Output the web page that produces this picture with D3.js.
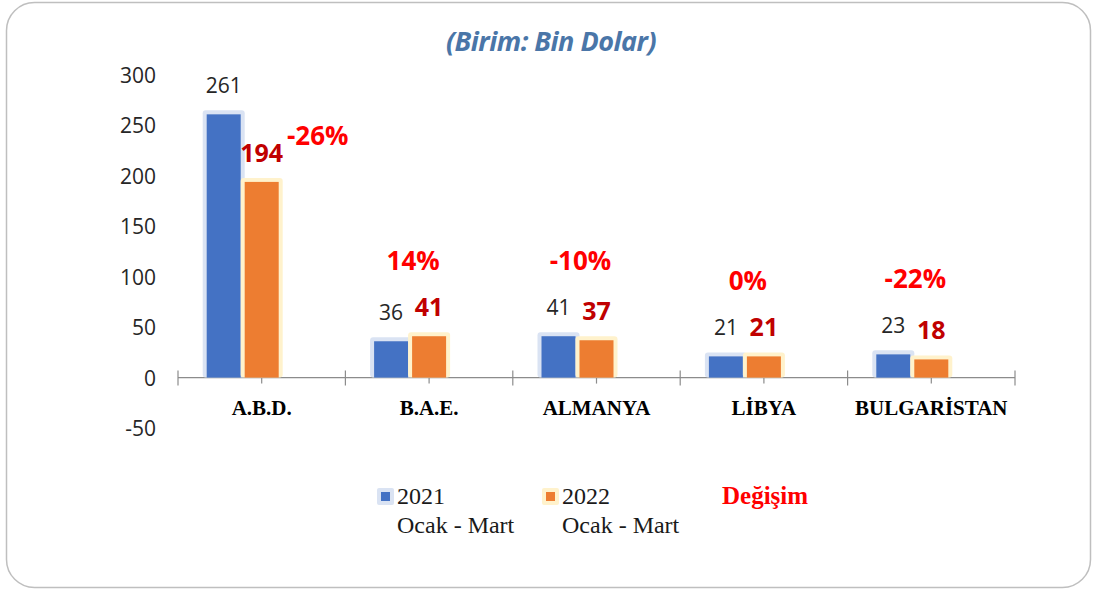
<!DOCTYPE html>
<html>
<head>
<meta charset="utf-8">
<script src="https://cdn.jsdelivr.net/npm/d3@7"></script>
<style>
  body { margin: 0; background: #fff; }
</style>
</head>
<body>
<script>
// chart values
var countries = ["A.B.D.", "B.A.E.", "ALMANYA", "LİBYA", "BULGARİSTAN"];
var series = ["2021", "2022", "Değişim"];
var v2021 = [261, 36, 41, 21, 23];
var v2022 = [194, 41, 37, 21, 18];
var change = [-26, 14, -10, 0, -22];
var yTicks = [-50, 0, 50, 100, 150, 200, 250, 300];
var legendTop = ["2021", "2022"];
var legendSub = "Ocak - Mart";
var title = "(Birim: Bin Dolar)";

var width = 1093, height = 592;
var blue = "#4472c4", orange = "#ed7d31";
var blueGlow = "#dae3f3", orangeGlow = "#fff2cc";

var svg = d3.select("body").append("svg")
  .attr("width", width)
  .attr("height", height);

// rounded frame
svg.append("rect")
  .attr("x", 6.5).attr("y", 2.5)
  .attr("width", 1084).attr("height", 585)
  .attr("rx", 28)
  .style("fill", "#fff")
  .style("stroke", "#bfbfbf")
  .style("stroke-width", 1.5);

// title
svg.append("text")
  .attr("x", 551).attr("y", 51)
  .attr("text-anchor", "middle")
  .style("font-family", "'Open Sans', sans-serif")
  .style("font-size", "27px")
  .style("font-weight", "bold")
  .style("font-style", "italic")
  .style("letter-spacing", "-0.5px")
  .style("fill", "#4a76a8")
  .text(title);

// scales - third slot is the (hidden) change series, as in the original chart
var y = d3.scaleLinear().domain([-50, 300]).range([428, 75]);
var x0 = d3.scaleBand().domain(countries).range([178, 1015]).padding(0);
var x1 = d3.scaleBand().domain(series).range([-55, 55]).paddingInner(0.105);

// y tick labels (no axis line)
var yAxis = d3.axisLeft(y).tickValues(yTicks).tickSize(0).tickPadding(0)
  .tickFormat(function(d) { return String(d); });
var gy = svg.append("g")
  .attr("transform", "translate(156,0)")
  .call(yAxis);
gy.select(".domain").remove();
gy.selectAll("text")
  .attr("dy", "0.36em")
  .style("font-family", "'Open Sans', sans-serif")
  .style("font-size", "21px")
  .style("fill", "#262626");

// x axis on zero line
var zeroY = y(0);
svg.append("line")
  .attr("x1", 178).attr("x2", 1015)
  .attr("y1", zeroY).attr("y2", zeroY)
  .style("stroke", "#8c8c8c")
  .style("stroke-width", 1.2);

var tickXs = countries.map(function(d) { return x0(d); }).concat([x0.range()[1]]);
svg.selectAll(".bt").data(tickXs).enter().append("line")
  .attr("x1", function(d) { return d; }).attr("x2", function(d) { return d; })
  .attr("y1", zeroY - 7).attr("y2", zeroY + 8)
  .style("stroke", "#8c8c8c").style("stroke-width", 1.2);
svg.selectAll(".ct").data(countries).enter().append("line")
  .attr("x1", function(d) { return x0(d) + x0.bandwidth() / 2; })
  .attr("x2", function(d) { return x0(d) + x0.bandwidth() / 2; })
  .attr("y1", zeroY - 5).attr("y2", zeroY + 6)
  .style("stroke", "#8c8c8c").style("stroke-width", 1.2);

// category labels
svg.selectAll(".cat").data(countries).enter().append("text")
  .attr("x", function(d) { return x0(d) + x0.bandwidth() / 2; })
  .attr("y", 415)
  .attr("text-anchor", "middle")
  .style("font-family", "'Liberation Serif', serif")
  .style("font-size", "21px")
  .style("font-weight", "bold")
  .style("fill", "#000")
  .text(function(d) { return d; });

// bars with soft glow
var cols = [v2021, v2022];
var fills = [blue, orange];
var glows = [blueGlow, orangeGlow];
cols.forEach(function(vals, si) {
  var s = series[si];
  var g = svg.append("g");
  countries.forEach(function(c, i) {
    var cx = x0(c) + x0.bandwidth() / 2;
    var bx = cx + x1(s);
    var top = y(vals[i]);
    g.append("rect")
      .attr("x", bx - 4).attr("y", top - 4)
      .attr("width", x1.bandwidth() + 8).attr("height", zeroY - top + 4)
      .attr("rx", 3)
      .style("fill", glows[si]);
    g.append("rect")
      .attr("x", bx).attr("y", top)
      .attr("width", x1.bandwidth()).attr("height", zeroY - top)
      .style("fill", fills[si]);
  });
});

// value labels
countries.forEach(function(c, i) {
  var cx = x0(c) + x0.bandwidth() / 2;
  svg.append("text")
    .attr("x", cx + x1("2021") + x1.bandwidth() / 2)
    .attr("y", y(v2021[i]) - 21)
    .attr("text-anchor", "middle")
    .style("font-family", "'Open Sans', sans-serif")
    .style("font-size", "21px")
    .style("fill", "#262626")
    .text(v2021[i]);
  var ox = cx + x1("2022") + x1.bandwidth() / 2;
  svg.append("text")
    .attr("x", ox)
    .attr("y", y(v2022[i]) - 20)
    .attr("text-anchor", "middle")
    .style("font-family", "'Open Sans', sans-serif")
    .style("font-size", "25px")
    .style("font-weight", "bold")
    .style("fill", "#c00000")
    .text(v2022[i]);

  // percentage change label
  var px, py;
  var hi = y(Math.max(v2021[i], v2022[i])) - 75;
  if (hi < 100) {
    // tall bars: put it beside the 2022 label
    px = ox + 56;
    py = y(v2022[i]) - 46;
  } else {
    px = cx - 16;
    py = hi;
  }
  svg.append("text")
    .attr("x", px)
    .attr("y", py + 9)
    .attr("text-anchor", "middle")
    .style("font-family", "'Open Sans', sans-serif")
    .style("font-size", "26px")
    .style("font-weight", "bold")
    .style("fill", "#ff0000")
    .text(change[i] + "%");
});

// legend
var legX = [381, 546];
legendTop.forEach(function(t, i) {
  svg.append("rect")
    .attr("x", legX[i] - 4).attr("y", 488)
    .attr("width", 17).attr("height", 17).attr("rx", 2)
    .style("fill", glows[i]);
  svg.append("rect")
    .attr("x", legX[i]).attr("y", 492)
    .attr("width", 9).attr("height", 9)
    .style("fill", fills[i]);
  svg.append("text")
    .attr("x", legX[i] + 16).attr("y", 504)
    .style("font-family", "'Liberation Serif', serif")
    .style("font-size", "24px")
    .style("fill", "#1a1a1a")
    .text(t);
  svg.append("text")
    .attr("x", legX[i] + 16).attr("y", 533)
    .style("font-family", "'Liberation Serif', serif")
    .style("font-size", "24px")
    .style("fill", "#1a1a1a")
    .text(legendSub);
});
svg.append("text")
  .attr("x", 722).attr("y", 504)
  .style("font-family", "'Liberation Serif', serif")
  .style("font-size", "25px")
  .style("font-weight", "bold")
  .style("fill", "#ff0000")
  .text(series[2]);
</script>
</body>
</html>
